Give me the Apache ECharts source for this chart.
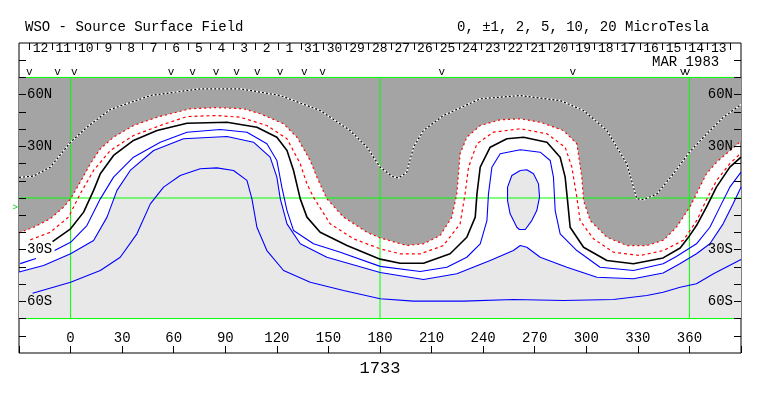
<!DOCTYPE html>
<html><head><meta charset="utf-8">
<script src="https://cdn.jsdelivr.net/npm/echarts@6/dist/echarts.min.js"></script>
<style>html,body{margin:0;padding:0;background:#fff}#c{width:763px;height:396px}</style>
</head><body><div id="c"></div>
<script>
// ---- data (longitude, latitude) ----
const contourPos5 = [[-30,12],[-21.7,12.7],[-11.8,17.9],[0,32.4],[9.5,41.1],[23.1,51.4],[46.4,59.5],[75.4,63.4],[98.7,63.4],[122,59.5],[145.2,50.8],[162.6,39.2],[172.4,29.5],[180.1,17.9],[187.1,12.5],[190.8,11.6],[195.6,15],[199.5,29.5],[205.3,39.2],[216.9,47.9],[238.3,57.6],[261.6,59.5],[284.8,56.6],[298.4,50.8],[312,39.2],[323.6,19.9],[329.4,-0.5],[333.3,-1],[341.1,2.4],[350.7,14.1],[360,26.6],[370.1,37.3],[379.8,46.9],[390,54.3]];
const contourPos2 = [[-30,-20.2],[-21.5,-17],[-11.8,-12.1],[-4.1,-5.3],[0,-0.5],[5.6,9.2],[11.5,19.9],[17.3,28.6],[25,35.3],[36.6,42.1],[50.3,46.9],[69.6,51.8],[85,52.5],[100.6,51.8],[110.3,48.9],[123.9,43.1],[131.7,35.3],[139.4,21.8],[143.3,12.1],[149.1,-0.5],[158.8,-11.1],[172.4,-19.9],[180.1,-23.2],[195.6,-27.6],[205.3,-26.6],[215,-21.8],[221.8,-11.1],[224.7,2.4],[226.6,25.7],[230.5,35.3],[238.3,42.1],[249.9,45.4],[261.6,46],[273.2,44],[286.7,39.2],[294.5,31.5],[297.4,12.1],[298.4,-1.5],[302.3,-13.1],[312,-22.8],[323.6,-27.6],[335.2,-27.6],[344.9,-24.5],[352.4,-17],[360.2,-5.3],[364.1,2.4],[369.9,14.1],[376,21],[383,27],[390,33]];
const contourPos1 = [[-23.4,-24.3],[-11.8,-19.9],[-1.2,-11.1],[5.6,2.4],[13.4,16],[23.1,27.6],[36.6,36.3],[52.2,42.1],[67.7,47.3],[85.1,47.9],[98.7,46.9],[114.2,42.1],[125.9,34.4],[133.6,19.9],[137.5,8.2],[141.3,0.5],[151,-15],[164.6,-23.7],[180.1,-29.5],[191.7,-32.4],[203.4,-32.4],[216.9,-27.6],[226.6,-15],[229.5,2.4],[231.5,17.9],[236.4,31.5],[246,38.2],[261.6,40.2],[277.1,37.3],[287.7,29.5],[291.6,17.9],[294.5,0.5],[296.4,-13.1],[304.2,-23.7],[315.8,-31.5],[331.3,-33.4],[344.9,-30.5],[356.5,-24.5],[364.3,-13],[369.9,-1],[375.7,10],[383.5,20],[390,26]];
const contourZero = [[-10.5,-25.3],[0,-17.9],[7.6,-8.2],[13.4,4.4],[17.3,14.1],[25,24.7],[36.6,33.4],[50.3,39.2],[67.7,43.4],[91,44],[108.4,41.1],[120,35.3],[125.9,27.6],[129.7,16],[133.6,-0.5],[137.5,-11.1],[145.2,-19.9],[160.8,-27.6],[180.1,-35.5],[191.7,-37.9],[205.3,-37.9],[220.8,-32.4],[230.5,-22.8],[235.4,-11.1],[236.4,2.4],[238.3,17.9],[244.1,29.5],[253.8,34.4],[263.5,35.3],[277.1,32.4],[284.8,23.7],[287.7,12.1],[289.1,-1.5],[290.6,-17],[298.4,-28.6],[312,-36.3],[327.4,-38.2],[344.7,-34.8],[354.6,-29],[360,-22],[364.1,-16],[369.9,-5.3],[375.7,6.3],[383.5,17.9],[390,23.7]];
const contourNeg1 = [[-9.3,-30.5],[0,-25.7],[9.5,-16],[17.3,-0.5],[25,12.1],[36.6,23.7],[52.2,32.4],[67.7,38.2],[87.1,39.8],[102.6,38.2],[114.2,31.5],[120,21.8],[122.9,6.3],[125.9,-7.3],[129.7,-18.9],[141.3,-26.6],[156.9,-31.5],[180.1,-39.7],[203.4,-42.7],[218.9,-40.2],[230.5,-34.4],[238.3,-26.6],[242.2,-13.1],[243.1,2.4],[245.1,17.9],[249.9,25.7],[261.6,28],[273.2,26.6],[279,21.8],[280.9,12.1],[281.9,-7.3],[284.8,-20.8],[294.5,-30.5],[308,-40.2],[327.4,-42.1],[344.7,-38.2],[352.4,-34],[364.1,-26.6],[371.9,-17],[377.7,-5.3],[383.5,6.3],[390,15]];
const contourNeg1Tail = [[-29.3,-38.1],[-20.1,-35.1]];
const contourNeg2 = [[-30,-43],[-15.7,-39.2],[0,-32.4],[13.4,-24.7],[21.2,-11.1],[27,4.4],[34.7,16],[48.3,27.6],[65.7,34.4],[91,35.7],[106.4,32.4],[116.1,23.7],[120,12.1],[122,-0.5],[125.9,-15],[133.6,-26.6],[149.1,-34.4],[180.1,-43.3],[205.3,-47.3],[224.7,-44],[244.1,-36.3],[257.6,-30.5],[261.6,-27.6],[265.4,-28.6],[273.2,-34.4],[288.7,-40.2],[306.2,-46],[327.4,-46.9],[344.7,-43.5],[354.4,-38.2],[364.1,-32.4],[371.9,-26.6],[379.6,-15],[385.4,-3.4],[390,6.3]];
const contourNeg2Loop = [[261.6,16],[256.7,13.1],[254.2,6.3],[254.2,-1.5],[255.7,-9.2],[259.6,-17],[261.1,-18.3],[264.5,-18.3],[268.3,-13.1],[271.2,-7.3],[272.8,0.5],[272.2,8.2],[269.3,14.1],[265.4,16.4],[261.6,16]];
const contourNeg5 = [[-22.1,-55.3],[0,-48.9],[17.3,-42.1],[28.9,-34.4],[38.6,-20.8],[46.4,-3.4],[54.1,6.3],[63.8,13.1],[75.4,17],[85.1,17.5],[94.8,16],[102.6,10.2],[105.5,-0.5],[108.4,-17],[114.2,-30.5],[123.9,-42.1],[139.4,-48.9],[158.8,-53.7],[180.1,-58.5],[199.5,-59.9],[228.6,-59.9],[257.6,-58.9],[286.7,-59.5],[315.8,-58.9],[335.2,-56.6],[344.7,-54.7],[354.6,-51.8],[364.1,-49.8],[374,-44],[390,-35.7]];

const dayLabels = ['12','11','10','9','8','7','6','5','4','3','2','1','31','30','29','28','27','26','25','24','23','22','21','20','19','18','17','16','15','14','13'];
const dayTickStartLon = -24.0;
const dayStepLon = 13.15;
const obsMarkerLons = [-24.0,-7.6,2.2,58.4,71.0,84.6,96.5,108.6,121.8,135.9,146.6,216.0,292.2,356.3,358.6];
const latLabels = {'60':'60N','30':'30N','-30':'30S','-60':'60S'};
const greenLats = [70,0,-70];
const greenLons = [0,180,360];
const rotationNumber = '1733';
const titleLeft = 'WSO - Source Surface Field';
const titleRight = '0, \u00b11, 2, 5, 10, 20 MicroTesla';
const dateText = 'MAR 1983';

// ---- chart ----
const FONT = '"Liberation Mono", "Courier New", monospace';
const chart = echarts.init(document.getElementById('c'), null, {renderer:'canvas'});

function polySeries(pts, fill, z) {
  return {type:'custom', coordinateSystem:'cartesian2d', data:[[0,0]], silent:true, z:z, clip:true,
    renderItem:(params, api) => ({type:'polygon', shape:{points: pts.map(p => api.coord(p))}, style:{fill:fill, stroke:null}})};
}
function lineSeries(pts, color, width, type, z) {
  return {type:'line', data:pts, symbol:'none', showSymbol:false, silent:true, z:z, clip:true,
    lineStyle:{color:color, width:width, type:type}};
}

const series = [];
series.push(polySeries(contourPos2.concat([[390,70],[-30,70]]), '#a4a4a4', 1));
series.push(polySeries(contourNeg2.concat([[390,-70],[-30,-70]]), '#e8e8e8', 1));
series.push(polySeries(contourNeg2Loop, '#e8e8e8', 1));
greenLats.forEach(lat => series.push(lineSeries([[-30,lat],[390,lat]], '#00ff00', 1, 'solid', 2)));
greenLons.forEach(lon => series.push(lineSeries([[lon,-70],[lon,70]], '#00ff00', 1, 'solid', 2)));
series.push(lineSeries(contourPos5, '#ffffff', 1.5, 'solid', 3));
series.push(lineSeries(contourPos5, '#000000', 1.2, [2,2], 3));
series.push(lineSeries(contourPos2, '#ff0000', 1.2, [2,3], 3));
series.push(lineSeries(contourPos1, '#ff0000', 1.2, [3,3], 3));
series.push(lineSeries(contourZero, '#000000', 1.6, 'solid', 3));
[contourNeg1, contourNeg1Tail, contourNeg2, contourNeg2Loop, contourNeg5].forEach(c => series.push(lineSeries(c, '#0000ff', 1.1, 'solid', 3)));

// day ticks, day labels, observation markers
series.push({type:'custom', coordinateSystem:'cartesian2d', data:[[0,0]], silent:true, z:5, clip:false,
  renderItem:(params, api) => {
    const ch = [];
    for (let k = 0; k <= dayLabels.length; k++) {
      const p = api.coord([dayTickStartLon + k*dayStepLon, 90]);
      ch.push({type:'line', shape:{x1:Math.round(p[0])+0.5, y1:p[1], x2:Math.round(p[0])+0.5, y2:p[1]+7}, style:{stroke:'#000', lineWidth:1}});
    }
    dayLabels.forEach((t,k) => {
      const p = api.coord([dayTickStartLon + (k+0.5)*dayStepLon, 86.8]);
      ch.push({type:'text', x:p[0], y:p[1], style:{text:t, fill:'#000', font:'13px ' + FONT, align:'center', verticalAlign:'middle'}});
    });
    obsMarkerLons.forEach(lon => {
      const p = api.coord([lon, 73.2]);
      ch.push({type:'text', x:p[0], y:p[1], style:{text:'v', fill:'#000', font:'11px ' + FONT, align:'center', verticalAlign:'middle'}});
    });
    const b = api.coord([-32.2, -5.3]);
    ch.push({type:'text', x:b[0], y:b[1], style:{text:'>', fill:'#00cc00', font:'9px ' + FONT, align:'center', verticalAlign:'middle'}});
    return {type:'group', children:ch};
  }});

const yLabelFmt = v => latLabels[String(v)] || '';
const axisFont = {fontFamily:FONT, fontSize:14, color:'#000'};

chart.setOption({
  animation:false,
  backgroundColor:'#ffffff',
  title:[
    {text:titleLeft, left:25, top:20, padding:0, textStyle:Object.assign({fontWeight:'normal'}, axisFont)},
    {text:titleRight, left:457, top:20, padding:0, textStyle:Object.assign({fontWeight:'normal'}, axisFont)},
    {text:dateText, left:652, top:55, padding:0, textStyle:Object.assign({fontWeight:'normal'}, axisFont)}
  ],
  grid:{left:19, top:43, width:722, height:310, show:true, borderColor:'#000', borderWidth:1, backgroundColor:'transparent'},
  xAxis:{type:'value', min:-30, max:390, interval:30, position:'bottom', z:10,
    axisLine:{show:false, onZero:false}, splitLine:{show:false},
    axisTick:{inside:true, length:7, lineStyle:{color:'#000'}},
    axisLabel:Object.assign({inside:true, margin:8, formatter:v => (v < 0 || v > 360) ? '' : String(v)}, axisFont),
    name:rotationNumber, nameLocation:'middle', nameGap:7,
    nameTextStyle:{fontFamily:FONT, fontSize:17, color:'#000', verticalAlign:'top'}},
  yAxis:[
    {type:'value', min:-90, max:90, interval:10, position:'left', z:10,
      axisLine:{show:false, onZero:false}, splitLine:{show:false},
      axisTick:{inside:true, length:7, lineStyle:{color:'#000'}},
      axisLabel:Object.assign({inside:true, margin:8, formatter:yLabelFmt, showMinLabel:false, showMaxLabel:false}, axisFont)},
    {type:'value', min:-90, max:90, interval:10, position:'right', z:10,
      axisLine:{show:false, onZero:false}, splitLine:{show:false},
      axisTick:{inside:true, length:7, lineStyle:{color:'#000'}},
      axisLabel:Object.assign({inside:true, margin:8, formatter:yLabelFmt, showMinLabel:false, showMaxLabel:false}, axisFont)}
  ],
  series:series
});
</script></body></html>
